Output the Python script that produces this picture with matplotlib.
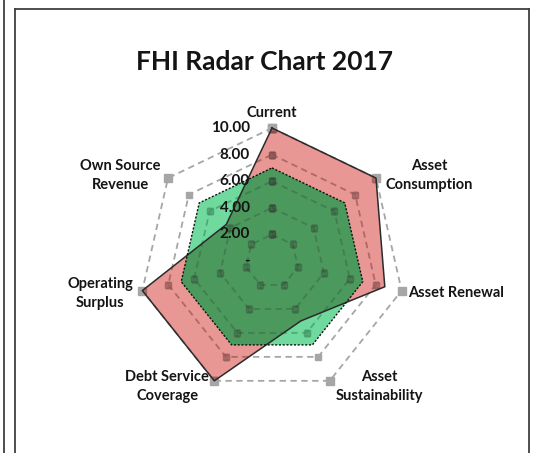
import numpy as np
import matplotlib
matplotlib.use('Agg')
import matplotlib.pyplot as plt
from matplotlib.lines import Line2D
from matplotlib.transforms import IdentityTransform

# ---- data ----
categories = ['Current', 'Asset\nConsumption', 'Asset Renewal', 'Asset\nSustainability',
              'Debt Service\nCoverage', 'Operating\nSurplus', 'Own Source\nRevenue']
actual_2017 = [10.0, 10.0, 8.7, 5.0, 10.0, 10.0, 4.4]
benchmark = [7.0, 7.0, 7.0, 7.0, 7.0, 7.0, 7.0]
ring_levels = [2, 4, 6, 8, 10]
tick_values = [0, 2, 4, 6, 8, 10]
tick_labels = ['-', '2.00', '4.00', '6.00', '8.00', '10.00']
title = 'FHI Radar Chart 2017'

FONT = ['Lato', 'DejaVu Sans']
plt.rcParams['font.family'] = FONT
TXT = '#141414'

W, H = 539, 453
fig = plt.figure(figsize=(W / 100, H / 100), dpi=100)

# frame lines (pixel coords)
def vline(x, y0, y1, c='#404040', lw=1.3):
    fig.add_artist(Line2D([x, x], [y0, y1], transform=IdentityTransform(), color=c, lw=lw))
def hline(y, x0, x1, c='#404040', lw=1.3):
    fig.add_artist(Line2D([x0, x1], [y, y], transform=IdentityTransform(), color=c, lw=lw))

vline(3.5, -5, H + 5)
vline(14.5, -5, H - 8.5)
vline(528.5, -5, H - 8.5)
hline(H - 8.5, 14.5, 528.5)

# polar axes: center (272, 261) px from top, radius 133 px
cx, cy, R = 272, 261, 133
ax = fig.add_axes([(cx - R) / W, (H - cy - R) / H, 2 * R / W, 2 * R / H], projection='polar')
ax.set_theta_zero_location('N')
ax.set_theta_direction(-1)
ax.set_ylim(0, 10)
ax.set_axis_off()

n = len(categories)
theta = np.linspace(0, 2 * np.pi, n, endpoint=False)
tc = np.concatenate([theta, theta[:1]])

def closed(v):
    v = list(v)
    return v + v[:1]

def rings(z, alpha, c, clip=None):
    for lv in ring_levels:
        ln, = ax.plot(tc, closed([lv] * n), color=c, lw=1.3, ls=(0, (3.5, 2.5)),
                      marker='s', ms=5.5 if lv == 10 else 5, mfc=c, mec=c,
                      clip_on=clip is not None, zorder=z, alpha=alpha)
        if clip is not None:
            ln.set_clip_path(clip)

rings(1, 1.0, '#A6A6A6')

# red series
red_fill = ax.fill(tc, closed(actual_2017), color='#DA524E', alpha=0.6, lw=0,
                   clip_on=False, zorder=2)[0]

# green series
green_fill = ax.fill(tc, closed(benchmark), color='#2BC870', alpha=0.68, lw=0,
                     clip_on=False, zorder=3)[0]
dark = ax.fill(tc, closed(benchmark), color='#459256', alpha=0.8, lw=0, zorder=4)[0]
dark.set_clip_path(red_fill)

# faint rings showing through the fills
rings(4.5, 0.15, '#333333', clip=red_fill)
rings(4.6, 0.12, '#333333', clip=green_fill)

ax.plot(tc, closed(actual_2017), color='#2b2b2b', lw=1.1, clip_on=False, zorder=5)
ax.plot(tc, closed(benchmark), color='#111111', lw=1.0, ls=(0, (1.5, 1.2)),
        clip_on=False, zorder=6)

# tick labels along the Current axis
for v, lab in zip(tick_values, tick_labels):
    ax.annotate(lab, xy=(0, v), xytext=(-22, 0), textcoords='offset pixels',
                ha='right', va='center', fontsize=11, fontweight='bold', color=TXT,
                annotation_clip=False, zorder=8)

# category labels
offsets = [(0, 15, 'center'), (53, 3, 'center'), (6, -2, 'left'), (50, -6, 'center'),
           (-47, -6, 'center'), (-42, -3, 'center'), (-48, 3, 'center')]
for ang, lab, (dx, dy, ha) in zip(theta, categories, offsets):
    ax.annotate(lab, xy=(ang, 10), xytext=(dx, dy), textcoords='offset pixels',
                ha=ha, va='center', fontsize=10.5, fontweight='bold', color=TXT,
                linespacing=1.45, multialignment='center', annotation_clip=False, zorder=8)

fig.text(265 / W, 1 - 62 / H, title, ha='center', va='center', fontsize=19,
         fontweight='bold', color=TXT)

fig.savefig('out.png', dpi=100)
